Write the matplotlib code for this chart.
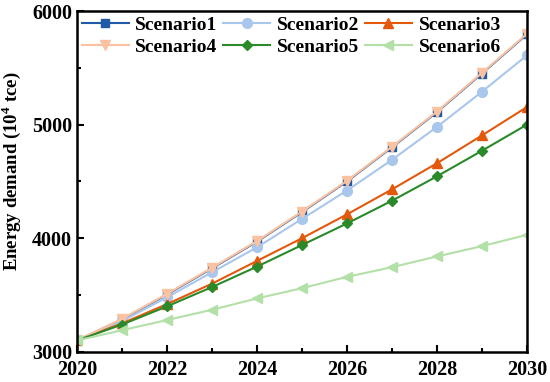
import numpy as np
import matplotlib
matplotlib.use("Agg")
from matplotlib import pyplot as plt
from matplotlib.ticker import MultipleLocator

plt.rcParams['font.family'] = ['Liberation Serif', 'DejaVu Serif']
plt.rcParams['font.weight'] = 'bold'
plt.rcParams['mathtext.fontset'] = 'custom'
plt.rcParams['mathtext.rm'] = 'Liberation Serif:bold'

years = np.arange(2020, 2031)
scenario1 = [3100, 3285, 3505, 3735, 3970, 4230, 4500, 4800, 5110, 5450, 5795]
scenario2 = [3100, 3270, 3480, 3700, 3920, 4170, 4420, 4690, 4980, 5290, 5610]
scenario3 = [3100, 3250, 3420, 3600, 3800, 4000, 4210, 4430, 4660, 4905, 5155]
scenario4 = [3100, 3290, 3510, 3740, 3975, 4235, 4505, 4805, 5115, 5455, 5800]
scenario5 = [3100, 3240, 3400, 3570, 3750, 3940, 4130, 4330, 4545, 4770, 5000]
scenario6 = [3100, 3190, 3280, 3370, 3470, 3560, 3660, 3745, 3840, 3930, 4030]

series = [("Scenario1", scenario1, "#1f5aa6", "s", 5.5),
          ("Scenario2", scenario2, "#a9c6ec", "o", 7),
          ("Scenario3", scenario3, "#e4580b", "^", 7),
          ("Scenario4", scenario4, "#fcc2a0", "v", 7.5),
          ("Scenario5", scenario5, "#2a8a2a", "D", 5.5),
          ("Scenario6", scenario6, "#b3e0a6", "<", 7)]

fig = plt.figure(figsize=(5.5, 3.82), dpi=100)
ax = fig.add_axes([0.14, 0.079, 0.818, 0.892])

lines = []
for name, vals, col, mk, ms in series:
    ln, = ax.plot(years, vals, color=col, marker=mk, markersize=ms,
                  linewidth=1.5, label=name)
    lines.append(ln)

ax.set_xlim(2020, 2030)
ax.set_ylim(3000, 6000)
ax.xaxis.set_major_locator(MultipleLocator(2))
ax.xaxis.set_minor_locator(MultipleLocator(1))
ax.yaxis.set_major_locator(MultipleLocator(1000))
ax.yaxis.set_minor_locator(MultipleLocator(500))
ax.tick_params(which='both', direction='in', labelsize=14.5, width=1.5)
ax.tick_params(which='major', length=5)
ax.tick_params(which='minor', length=3)
ax.tick_params(axis='x', pad=6)
for s in ax.spines.values():
    s.set_linewidth(1.8)

ax.set_ylabel("Energy demand (10$^4$ tce)", fontsize=13.5, fontweight='bold')
ax.yaxis.set_label_coords(-0.12, 0.53)

# matplotlib fills legend columns first, so reorder to read row by row
order = [0, 3, 1, 4, 2, 5]
ax.legend([lines[i] for i in order], [series[i][0] for i in order],
          ncol=3, loc='upper left', frameon=False, fontsize=14,
          handlelength=2.4, handletextpad=0.35, columnspacing=0.3,
          labelspacing=0.25, borderaxespad=0.15, borderpad=0.1)

fig.savefig("out.png", dpi=100)
